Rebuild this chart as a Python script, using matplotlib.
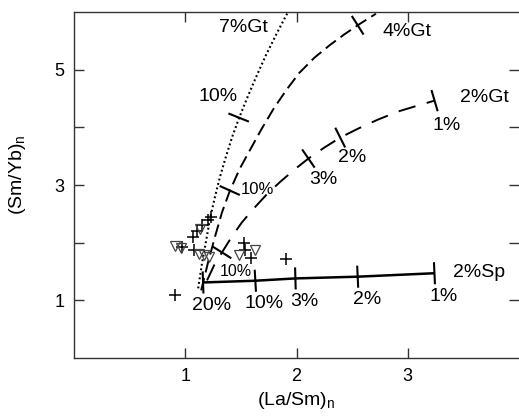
import numpy as np
import matplotlib
matplotlib.use("Agg")
import matplotlib.pyplot as plt

plt.rcParams['font.family'] = ['Liberation Sans', 'DejaVu Sans']
plt.rcParams['mathtext.fontset'] = 'custom'
plt.rcParams['mathtext.rm'] = 'Liberation Sans'
plt.rcParams['mathtext.it'] = 'Liberation Sans'

# ---- melting curves (La/Sm)n vs (Sm/Yb)n ----
gt7_x = [1.116, 1.152, 1.188, 1.223, 1.268, 1.313, 1.366, 1.420, 1.482,
         1.554, 1.634, 1.723, 1.821, 1.920]
gt7_y = [1.208, 1.658, 2.039, 2.420, 2.801, 3.147, 3.494, 3.823, 4.152,
         4.498, 4.861, 5.242, 5.623, 5.987]
gt7_tick_x = [1.48]
gt7_tick_y = [4.17]
gt7_tick_lab = ['10%']

gt4_x = [1.143, 1.205, 1.268, 1.330, 1.402, 1.491, 1.589, 1.688, 1.795,
         1.911, 2.027, 2.161, 2.304, 2.438, 2.571, 2.714]
gt4_y = [1.173, 1.658, 2.108, 2.524, 2.905, 3.286, 3.632, 3.978, 4.325,
         4.654, 4.948, 5.208, 5.433, 5.623, 5.796, 5.970]
gt4_tick_x = [1.40, 2.55]
gt4_tick_y = [2.905, 5.77]
gt4_tick_lab = ['10%', '']

gt2_x = [1.196, 1.259, 1.330, 1.420, 1.509, 1.616, 1.732, 1.857, 1.982,
         2.107, 2.250, 2.393, 2.554, 2.732, 2.911, 3.089, 3.241]
gt2_y = [1.346, 1.606, 1.831, 2.108, 2.351, 2.593, 2.836, 3.061, 3.268,
         3.459, 3.649, 3.822, 3.978, 4.134, 4.273, 4.377, 4.463]
gt2_tick_x = [1.33, 2.107, 2.393, 3.241]
gt2_tick_y = [1.831, 3.459, 3.822, 4.463]
gt2_tick_lab = ['10%', '3%', '2%', '1%']

sp_x = [1.16, 1.63, 1.99, 2.55, 3.24]
sp_y = [1.31, 1.34, 1.38, 1.41, 1.47]
sp_tick_lab = ['20%', '10%', '3%', '2%', '1%']

# ---- samples ----
cross_x = [0.91, 0.97, 1.07, 1.11, 1.15, 1.20, 1.23, 1.08, 1.53, 1.54, 1.59, 1.91]
cross_y = [1.09, 1.92, 2.09, 2.21, 2.30, 2.39, 2.45, 1.88, 1.99, 1.88, 1.74, 1.71]
tri_x = [0.91, 0.96, 1.13, 1.12, 1.17, 1.21, 1.48, 1.63]
tri_y = [1.94, 1.90, 2.23, 1.81, 1.78, 1.76, 1.79, 1.88]

x_ticks = [1, 2, 3]
y_ticks = [1, 2, 3, 4, 5]
y_tick_labels = ['1', '', '3', '', '5']

W, H = 519, 417
fig = plt.figure(figsize=(W / 100, H / 100), dpi=100)
ax = fig.add_axes([74 / W, 59 / H, 445 / W, 346 / H])
ax.set_xlim(0, 4)
ax.set_ylim(0, 6)

sc = '#333333'
for s in ['left', 'bottom', 'top']:
    ax.spines[s].set_color(sc)
    ax.spines[s].set_linewidth(1.0)
ax.spines['right'].set_visible(False)

ax.set_xticks(x_ticks)
ax.set_xticklabels([str(v) for v in x_ticks])
ax.set_yticks(y_ticks)
ax.set_yticklabels(y_tick_labels)
ax.tick_params(axis='both', direction='in', length=7, width=1.0, color=sc,
               labelsize=13, top=True, right=True, pad=7)

ax.set_xlabel(r'(La/Sm)$_{\rm n}$', fontsize=14, labelpad=4)
ax.set_ylabel(r'(Sm/Yb)$_{\rm n}$', fontsize=14)
ax.yaxis.set_label_coords(-0.103, 0.53)

lw = 1.4
ax.plot(gt7_x, gt7_y, color='k', lw=1.5, linestyle=(0, (0.9, 1.3)))
ax.plot(gt4_x, gt4_y, color='k', lw=lw, linestyle=(0, (6.5, 3.0)))
ax.plot(gt2_x, gt2_y, color='k', lw=lw, linestyle=(0, (9.0, 6.0)))
ax.plot(sp_x, sp_y, color='k', lw=1.8, solid_capstyle='butt')

ax.plot(cross_x, cross_y, linestyle='none', marker='+', ms=9, mew=1.1, color='k')
ax.plot(tri_x, tri_y, linestyle='none', marker='v', ms=7.5, mfc='none',
        mec='#444444', mew=0.9)


def perp_ticks(cx, cy, tx, ty, half=10):
    """Draw short perpendicular tick segments on a curve (display space)."""
    pts = ax.transData.transform(np.column_stack([cx, cy]))
    inv = ax.transData.inverted()
    for x, y in zip(tx, ty):
        p = ax.transData.transform((x, y))
        d = np.hypot(pts[:, 0] - p[0], pts[:, 1] - p[1])
        i = int(np.argmin(d))
        j = i + 1 if i + 1 < len(pts) else i - 1
        v = pts[j] - pts[i]
        v = v / np.hypot(*v)
        n = np.array([-v[1], v[0]])
        a = inv.transform(p + n * half)
        b = inv.transform(p - n * half)
        ax.plot([a[0], b[0]], [a[1], b[1]], color='k', lw=1.5)


perp_ticks(gt7_x, gt7_y, gt7_tick_x, gt7_tick_y, half=10)
perp_ticks(gt4_x, gt4_y, gt4_tick_x, gt4_tick_y, half=10)
perp_ticks(gt2_x, gt2_y, gt2_tick_x, gt2_tick_y, half=10)
perp_ticks(sp_x, sp_y, sp_x, sp_y, half=10)


def lab(x, y, s, dx, dy, size=14):
    ax.annotate(s, (x, y), xytext=(dx, dy), textcoords='offset pixels',
                ha='center', va='center', fontsize=size)


# spinel labels
for x, y, s in zip(sp_x, sp_y, sp_tick_lab):
    lab(x, y, s, 9, -23)
lab(sp_x[-1], sp_y[-1], '2%Sp', 45, 1)

# 2% garnet labels
gt2_off = [(14, -19), (15, -21), (12, -20), (12, -25)]
gt2_size = [11.5, 14, 14, 14]
for x, y, s, o, fs in zip(gt2_tick_x, gt2_tick_y, gt2_tick_lab, gt2_off, gt2_size):
    lab(x, y, s, o[0], o[1], fs)
lab(gt2_tick_x[-1], gt2_tick_y[-1], '2%Gt', 50, 3)

# 4% garnet labels
lab(gt4_tick_x[0], gt4_tick_y[0], gt4_tick_lab[0], 28, 1, 12)
lab(gt4_tick_x[1], gt4_tick_y[1], '4%Gt', 49, -6)

# 7% garnet labels
lab(gt7_tick_x[0], gt7_tick_y[0], gt7_tick_lab[0], -21, 21)
lab(gt7_x[-1], gt7_y[-1], '7%Gt', -44, -15)

fig.savefig('out.png', dpi=100)
